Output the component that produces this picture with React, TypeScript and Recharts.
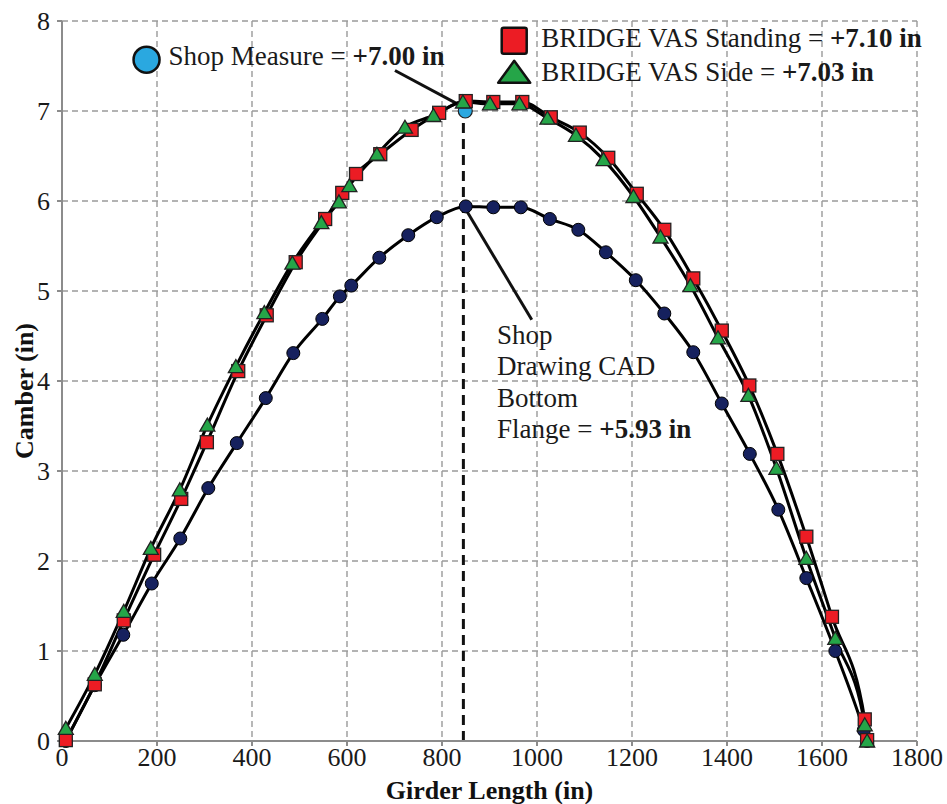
import React from "react";
import {
  ComposedChart,
  Line,
  Scatter,
  XAxis,
  YAxis,
  CartesianGrid,
  ReferenceLine,
  ReferenceDot,
} from "recharts";

// Shop Drawing CAD bottom flange (navy circles)
const cadX = [8, 69, 129, 189, 249, 308, 368, 429, 487, 548, 585, 609, 668, 729, 789, 850, 908, 966, 1027, 1087, 1145, 1208, 1268, 1329, 1389, 1448, 1508, 1567, 1628, 1688, 1695];
const cadY = [0, 0.62, 1.18, 1.75, 2.25, 2.81, 3.31, 3.81, 4.31, 4.69, 4.94, 5.06, 5.37, 5.62, 5.82, 5.94, 5.93, 5.93, 5.8, 5.68, 5.43, 5.12, 4.75, 4.32, 3.75, 3.19, 2.57, 1.81, 1.0, 0.12, 0];

// BRIDGE VAS Standing (red squares)
const standX = [8, 69, 130, 194, 251, 305, 371, 431, 492, 554, 590, 619, 670, 736, 794, 850, 908, 969, 1029, 1090, 1150, 1210, 1268, 1329, 1389, 1447, 1506, 1567, 1621, 1690, 1695];
const standY = [0.01, 0.63, 1.34, 2.07, 2.69, 3.32, 4.11, 4.73, 5.32, 5.8, 6.09, 6.3, 6.52, 6.79, 6.98, 7.11, 7.1, 7.1, 6.93, 6.76, 6.48, 6.08, 5.68, 5.14, 4.56, 3.95, 3.19, 2.27, 1.38, 0.24, 0.01];

// BRIDGE VAS Side (green triangles)
const sideX = [8, 69, 130, 187, 248, 306, 366, 426, 485, 546, 583, 605, 663, 722, 782, 844, 901, 963, 1022, 1082, 1140, 1203, 1260, 1323, 1381, 1445, 1504, 1567, 1628, 1690, 1695];
const sideY = [0.14, 0.74, 1.44, 2.14, 2.79, 3.51, 4.16, 4.76, 5.31, 5.76, 5.99, 6.17, 6.52, 6.82, 6.95, 7.1, 7.08, 7.08, 6.92, 6.73, 6.46, 6.05, 5.6, 5.06, 4.48, 3.84, 3.03, 2.03, 1.14, 0.18, 0];

// Shop measure (single point)
const shopX = [849];
const shopY = [7.0];

const xTicks = [0, 200, 400, 600, 800, 1000, 1200, 1400, 1600, 1800];
const yTicks = [0, 1, 2, 3, 4, 5, 6, 7, 8];

const toPoints = (xs: number[], ys: number[]) => xs.map((x, i) => ({ x, y: ys[i] }));

const cadData = toPoints(cadX, cadY);
const standData = toPoints(standX, standY);
const sideData = toPoints(sideX, sideY);
const shopData = toPoints(shopX, shopY);

const FONT = "'Liberation Serif', 'Times New Roman', serif";
const RED = "#ec1c24";
const GREEN = "#25a548";
const NAVY = "#16215e";
const SKY = "#2aa8e0";

const circleDot = (p: any) => (
  <circle key={`c-${p.index}`} cx={p.cx} cy={p.cy} r={6.5} fill={NAVY} stroke="#000" strokeWidth={1} />
);
const squareDot = (p: any) => (
  <rect key={`s-${p.index}`} x={p.cx - 6.5} y={p.cy - 6.5} width={13} height={13} fill={RED} stroke="#222" strokeWidth={1.3} />
);
const triDot = (p: any) => (
  <polygon
    key={`t-${p.index}`}
    points={`${p.cx - 7.5},${p.cy + 6} ${p.cx + 7.5},${p.cy + 6} ${p.cx},${p.cy - 7}`}
    fill={GREEN}
    stroke="#222"
    strokeWidth={1.3}
  />
);

const txt = { fontFamily: FONT, fontSize: 27, fill: "#1a1a1a" } as const;

export default function App() {
  return (
    <div>
      <style>{`body{margin:0;background:#fff}`}</style>
      <ComposedChart width={947} height={804} margin={{ top: 21, right: 30, bottom: 0, left: 12 }}>
        <CartesianGrid stroke="#9a9a9a" strokeDasharray="6 4" strokeWidth={1.4} />
        <XAxis
          dataKey="x"
          type="number"
          domain={[0, 1800]}
          ticks={xTicks}
          height={63}
          stroke="#8c8c8c"
          strokeWidth={2}
          tickSize={5}
          tickMargin={2}
          tick={{ fontFamily: FONT, fontSize: 26, fill: "#1a1a1a" }}
          label={{
            value: "Girder Length (in)",
            position: "insideBottom",
            offset: 5,
            style: { fontFamily: FONT, fontSize: 26, fontWeight: "bold", fill: "#111" },
          }}
        />
        <YAxis
          type="number"
          domain={[0, 8]}
          ticks={yTicks}
          width={50}
          stroke="#8c8c8c"
          strokeWidth={2}
          tickSize={5}
          tickMargin={7}
          tick={{ fontFamily: FONT, fontSize: 26, fill: "#1a1a1a" }}
          label={{
            value: "Camber (in)",
            angle: -90,
            position: "insideLeft",
            offset: 0,
            dx: 12,
            dy: 10,
            style: { fontFamily: FONT, fontSize: 26, fontWeight: "bold", fill: "#111", textAnchor: "middle" },
          }}
        />

        <ReferenceLine
          segment={[{ x: 845, y: 0 }, { x: 845, y: 6.95 }]}
          stroke="#111"
          strokeWidth={3}
          strokeDasharray="10 6"
        />
        <ReferenceLine segment={[{ x: 701, y: 7.45 }, { x: 846, y: 7.04 }]} stroke="#111" strokeWidth={3} />
        <ReferenceLine segment={[{ x: 853, y: 5.88 }, { x: 989, y: 4.68 }]} stroke="#111" strokeWidth={3} />

        <Scatter
          data={shopData}
          dataKey="y"
          isAnimationActive={false}
          shape={(p: any) => <circle cx={p.cx} cy={p.cy} r={7} fill={SKY} stroke="#222" strokeWidth={1.2} />}
        />
        <Line
          data={cadData}
          dataKey="y"
          type="monotone"
          stroke="#000"
          strokeWidth={3}
          dot={circleDot}
          activeDot={false}
          isAnimationActive={false}
        />
        <Line
          data={standData}
          dataKey="y"
          type="monotone"
          stroke="#000"
          strokeWidth={3}
          dot={squareDot}
          activeDot={false}
          isAnimationActive={false}
        />
        <Line
          data={sideData}
          dataKey="y"
          type="monotone"
          stroke="#000"
          strokeWidth={3}
          dot={triDot}
          activeDot={false}
          isAnimationActive={false}
        />

        {/* Shop Measure label */}
        <ReferenceDot
          x={178}
          y={7.57}
          r={0}
          shape={(p: any) => (
            <g>
              <circle cx={p.cx} cy={p.cy} r={13} fill={SKY} stroke="#111" strokeWidth={2.5} />
              <text x={p.cx + 22} y={p.cy + 5} {...txt}>
                Shop Measure = <tspan fontWeight="bold">+7.00 in</tspan>
              </text>
            </g>
          )}
        />

        {/* Legend for the VAS series */}
        <ReferenceDot
          x={952}
          y={7.78}
          r={0}
          shape={(p: any) => (
            <g>
              <rect x={p.cx - 12.5} y={p.cy - 13} width={25} height={26} rx={2} fill={RED} stroke="#111" strokeWidth={2.5} />
              <text x={p.cx + 27} y={p.cy + 6} {...txt}>
                BRIDGE VAS Standing = <tspan fontWeight="bold">+7.10 in</tspan>
              </text>
              <polygon
                points={`${p.cx - 16},${p.cy + 42} ${p.cx + 16},${p.cy + 42} ${p.cx},${p.cy + 20}`}
                fill={GREEN}
                stroke="#111"
                strokeWidth={2.5}
                strokeLinejoin="round"
              />
              <text x={p.cx + 27} y={p.cy + 40} {...txt}>
                BRIDGE VAS Side = <tspan fontWeight="bold">+7.03 in</tspan>
              </text>
            </g>
          )}
        />

        {/* Shop drawing CAD annotation */}
        <ReferenceDot
          x={916}
          y={4.41}
          r={0}
          shape={(p: any) => (
            <text x={p.cx} y={p.cy} {...txt}>
              <tspan x={p.cx} dy={0}>Shop</tspan>
              <tspan x={p.cx} dy={31.3}>Drawing CAD</tspan>
              <tspan x={p.cx} dy={31.3}>Bottom</tspan>
              <tspan x={p.cx} dy={31.3}>
                Flange = <tspan fontWeight="bold">+5.93 in</tspan>
              </tspan>
            </text>
          )}
        />
      </ComposedChart>
    </div>
  );
}
